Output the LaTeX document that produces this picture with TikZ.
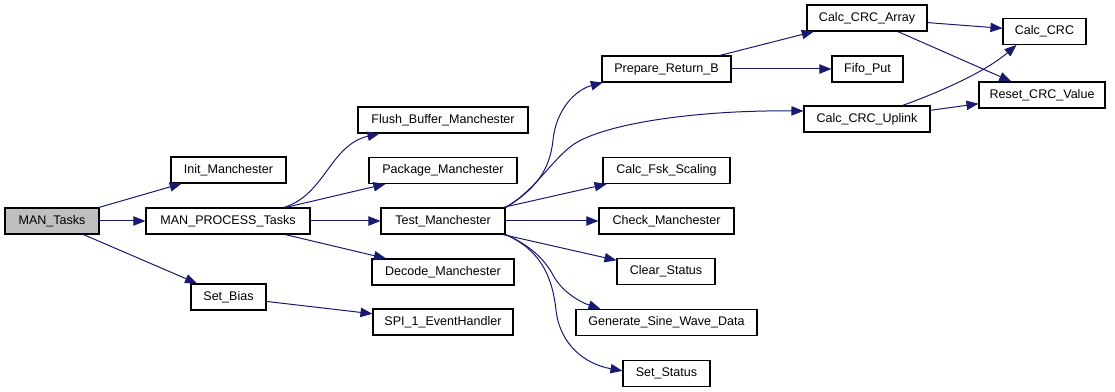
\documentclass[tikz,border=0pt]{standalone}
\usepackage{fontspec}
\setmainfont{Liberation Sans}
\usepackage{tikz}
\usetikzlibrary{arrows.meta}
\definecolor{callblue}{HTML}{191970}

\begin{document}
\begin{tikzpicture}[x=0.75pt, y=-0.75pt,
  fn/.style={rectangle, draw=black, line width=0.8pt, fill=white,
             minimum height=19.5pt, inner sep=0pt,
             font=\fontsize{9.4}{11}\selectfont},
  call/.style={-{Triangle[length=9pt, width=7pt]}, callblue, line width=0.75pt}]
\useasboundingbox (0,0) rectangle (1115,392);

% Functions
\node[fn, fill=black!25, minimum width=70.5pt] (man) at (52,221) {MAN\_Tasks};
\node[fn, minimum width=86.25pt] (init) at (228.5,170) {Init\_Manchester};
\node[fn, minimum width=123pt] (mpt) at (228,221) {MAN\_PROCESS\_Tasks};
\node[fn, minimum width=56.25pt] (sbias) at (228.5,297) {Set\_Bias};

\node[fn, minimum width=127.5pt] (flush) at (443,120) {Flush\_Buffer\_Manchester};
\node[fn, minimum width=111pt] (pkg) at (443,170.5) {Package\_Manchester};
\node[fn, minimum width=93pt] (test) at (443,221) {Test\_Manchester};
\node[fn, minimum width=106.5pt] (decode) at (443,272) {Decode\_Manchester};
\node[fn, minimum width=105pt] (spi) at (443,322) {SPI\_1\_EventHandler};

\node[fn, minimum width=96.75pt] (prep) at (666.5,69) {Prepare\_Return\_B};
\node[fn, minimum width=95.25pt] (fsk) at (666.5,170.5) {Calc\_Fsk\_Scaling};
\node[fn, minimum width=101.25pt] (check) at (666.5,221) {Check\_Manchester};
\node[fn, minimum width=73.5pt] (clear) at (666,271.5) {Clear\_Status};
\node[fn, minimum width=135.75pt] (sine) at (666.5,322.5) {Generate\_Sine\_Wave\_Data};
\node[fn, minimum width=65.25pt] (sstat) at (666.5,373.5) {Set\_Status};

\node[fn, minimum width=90pt] (crcarr) at (867,18) {Calc\_CRC\_Array};
\node[fn, minimum width=53.25pt] (fifo) at (867.5,69) {Fifo\_Put};
\node[fn, minimum width=94.5pt] (uplink) at (867,119) {Calc\_CRC\_Uplink};
\node[fn, minimum width=62.25pt] (crc) at (1044.5,31.5) {Calc\_CRC};
\node[fn, minimum width=94.5pt] (reset) at (1042,95) {Reset\_CRC\_Value};

% Calls
\draw[call] (man) -- (init);
\draw[call] (man) -- (mpt);
\draw[call] (man) -- (sbias);

\draw[call] ([xshift=-20pt]mpt.north east) .. controls (325,195) and (330,145) .. ([xshift=16.5pt]flush.south west);
\draw[call] (mpt) -- (pkg);
\draw[call] (mpt) -- (test);
\draw[call] (mpt) -- (decode);
\draw[call] (sbias) -- (spi);

\draw[call] (test.north east) .. controls (535,190) and (550,170) .. (553,140)
  .. controls (556,110) and (575,90) .. ([xshift=1pt]prep.south west);
\draw[call] (test.north east) .. controls (535,190) and (548,165) .. (570,147)
  .. controls (597,125) and (690,110) .. ([yshift=6pt]uplink.west);
\draw[call] (test) -- (fsk);
\draw[call] (test) -- (check);
\draw[call] (test) -- (clear);
\draw[call] (test.south east) .. controls (530,245) and (545,260) .. (553,275)
  .. controls (562,292) and (580,302) .. ([xshift=18.75pt]sine.north west);
\draw[call] (test.south east) .. controls (540,250) and (552,275) .. (556,310)
  .. controls (560,345) and (585,364) .. ([yshift=2pt]sstat.west);

\draw[call] (prep) -- (crcarr);
\draw[call] (prep) -- (fifo);
\draw[call] (crcarr) -- (crc);
\draw[call] (crcarr) -- (reset);
\draw[call] ([xshift=-21pt]uplink.north east) .. controls (940,92) and (985,72) .. ([xshift=10.5pt]crc.south west);
\draw[call] (uplink) -- (reset);

\end{tikzpicture}
\end{document}
